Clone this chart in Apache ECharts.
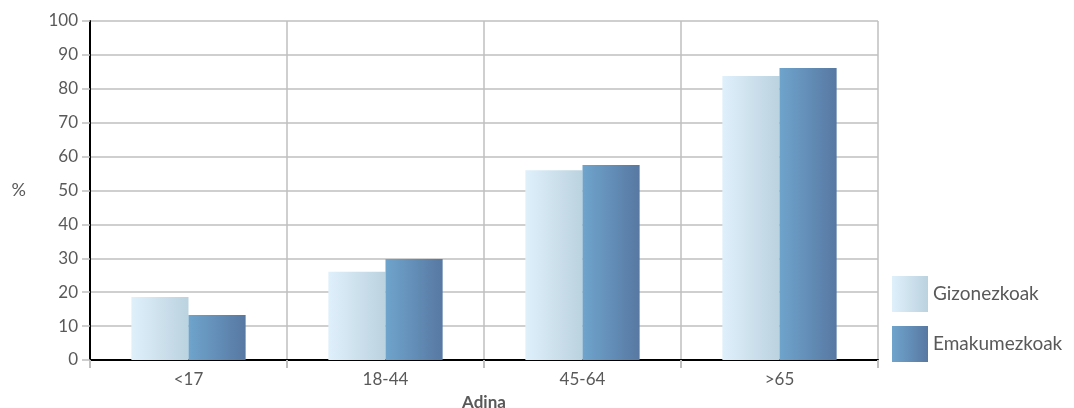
<!DOCTYPE html>
<html>
<head>
<meta charset="utf-8">
<script src="https://cdn.jsdelivr.net/npm/echarts@6/dist/echarts.min.js"></script>
<style>
  html, body { margin: 0; padding: 0; background: #fff; }
  #chart { width: 1074px; height: 408px; }
</style>
</head>
<body>
<div id="chart"></div>
<script>
// Age groups and share (%) by sex
const categories = ['<17', '18-44', '45-64', '>65'];
const gizonezkoak = [18.6, 26.0, 56.0, 83.8];
const emakumezkoak = [13.3, 29.8, 57.5, 86.1];
const seriesNames = ['Gizonezkoak', 'Emakumezkoak'];

const textColor = '#595959';
const fontFamily = 'Lato, "Open Sans", sans-serif';

function hGrad(a, b) {
  return new echarts.graphic.LinearGradient(0, 0, 1, 0, [
    { offset: 0, color: a },
    { offset: 1, color: b }
  ]);
}

const chart = echarts.init(document.getElementById('chart'));
chart.setOption({
  animation: false,
  textStyle: { fontFamily: fontFamily },
  grid: { left: 90, right: 196, top: 21, bottom: 48, outerBoundsMode: 'none' },
  legend: {
    orient: 'vertical',
    left: 892,
    top: 276,
    padding: 0,
    itemWidth: 36,
    itemHeight: 36,
    itemGap: 14,
    icon: 'rect',
    textStyle: { color: textColor, fontSize: 19, fontFamily: fontFamily },
    data: seriesNames
  },
  xAxis: {
    type: 'category',
    data: categories,
    name: 'Adina',
    nameLocation: 'middle',
    nameGap: 34,
    nameTextStyle: { color: textColor, fontSize: 17, fontWeight: 'bold', fontFamily: fontFamily },
    axisLine: { lineStyle: { color: '#000', width: 2 } },
    axisTick: { show: true, length: 8, lineStyle: { color: '#bfbfbf', width: 2 } },
    axisLabel: { color: textColor, fontSize: 17, margin: 11 },
    splitLine: { show: true, lineStyle: { color: '#bfbfbf', width: 1.5 } }
  },
  yAxis: {
    type: 'value',
    min: 0,
    max: 100,
    interval: 10,
    name: '%',
    nameLocation: 'middle',
    nameRotate: 0,
    nameGap: 64,
    nameTextStyle: { color: textColor, fontSize: 18, fontFamily: fontFamily },
    axisLine: { show: true, lineStyle: { color: '#000', width: 2 } },
    axisTick: { show: true, length: 8, lineStyle: { color: '#bfbfbf', width: 1.5 } },
    axisLabel: { color: textColor, fontSize: 17, margin: 12 },
    splitLine: { show: true, lineStyle: { color: '#bfbfbf', width: 1.5 } }
  },
  series: [
    {
      name: seriesNames[0],
      type: 'bar',
      data: gizonezkoak,
      barGap: '0%',
      barCategoryGap: '42%',
      itemStyle: { color: hGrad('#dff0fb', '#bbd2df') }
    },
    {
      name: seriesNames[1],
      type: 'bar',
      data: emakumezkoak,
      itemStyle: { color: hGrad('#6fa4cc', '#5778a2') }
    }
  ]
});
</script>
</body>
</html>
